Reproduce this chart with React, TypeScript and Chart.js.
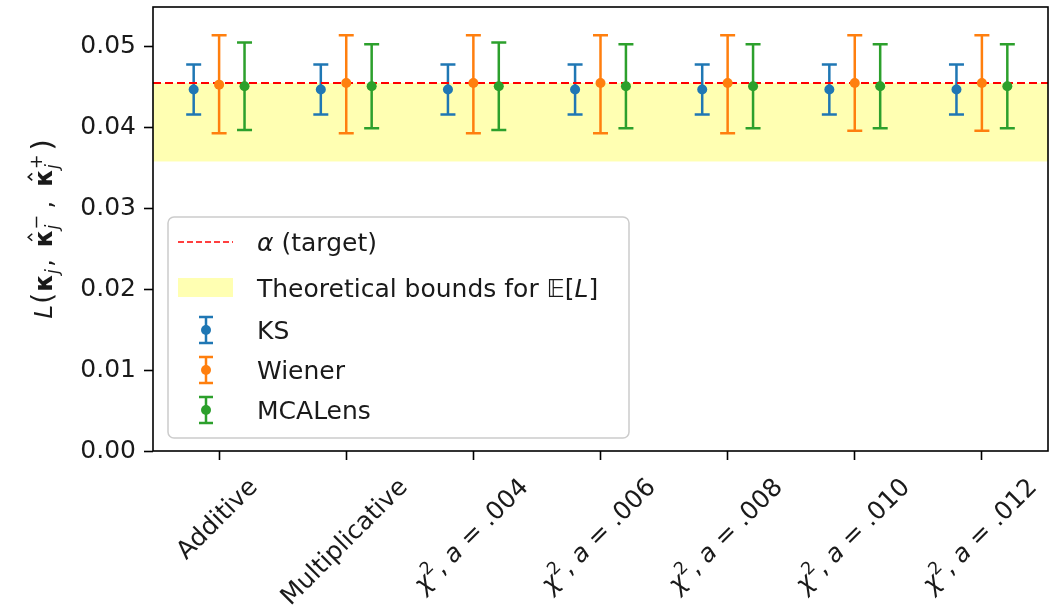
import React, { useEffect, useRef } from "react";
import { Chart, registerables } from "chart.js";
Chart.register(...registerables);

// ---------- data ----------
const categories = [
  "Additive",
  "Multiplicative",
  "χ^2, a = .004",
  "χ^2, a = .006",
  "χ^2, a = .008",
  "χ^2, a = .010",
  "χ^2, a = .012",
];
const xTickValues = [0, 1, 2, 3, 4, 5, 6];
const yTickValues = [0, 0.01, 0.02, 0.03, 0.04, 0.05];
const seriesNames = ["KS", "Wiener", "MCALens"];
const seriesColors = ["#1f77b4", "#ff7f0e", "#2ca02c"];
const seriesOffsets = [-0.2, 0, 0.2];

const ksMean = [0.0447, 0.0447, 0.0447, 0.0447, 0.0447, 0.0447, 0.0447];
const ksLow = [0.0416, 0.0416, 0.0416, 0.0416, 0.0416, 0.0416, 0.0416];
const ksHigh = [0.0478, 0.0478, 0.0478, 0.0478, 0.0478, 0.0478, 0.0478];

const wienerMean = [0.0453, 0.0455, 0.0455, 0.0455, 0.0455, 0.0455, 0.0455];
const wienerLow = [0.0393, 0.0393, 0.0393, 0.0393, 0.0393, 0.0396, 0.0396];
const wienerHigh = [0.0514, 0.0514, 0.0514, 0.0514, 0.0514, 0.0514, 0.0514];

const mcaMean = [0.0451, 0.0451, 0.0451, 0.0451, 0.0451, 0.0451, 0.0451];
const mcaLow = [0.0397, 0.0399, 0.0397, 0.0399, 0.0399, 0.0399, 0.0399];
const mcaHigh = [0.0505, 0.0503, 0.0505, 0.0503, 0.0503, 0.0503, 0.0503];

const alphaTarget = 0.0455;
const boundLow = 0.0358;
const boundHigh = 0.0455;

const xMin = -0.52;
const xMax = 6.52;
const yMin = 0;
const yMax = 0.0549;

const means = [ksMean, wienerMean, mcaMean];
const lows = [ksLow, wienerLow, mcaLow];
const highs = [ksHigh, wienerHigh, mcaHigh];

// ---------- rich text helpers ----------
const FAMILY = '"DejaVu Sans"';
const FS = 25;
const TEXT_COLOR = "#1a1a1a";

type Piece = {
  t: string;
  italic?: boolean;
  bold?: boolean;
  scale?: number;
  dy?: number;
  stack?: boolean;
  hat?: boolean;
  gap?: number;
};

function fontOf(p: Piece, size: number) {
  const s = size * (p.scale ?? 1);
  return `${p.italic ? "italic " : ""}${p.bold ? "bold " : ""}${s}px ${FAMILY}`;
}

function layoutPieces(ctx: CanvasRenderingContext2D, pieces: Piece[], size: number) {
  let x = 0;
  let prevStart = 0;
  let prevW = 0;
  const pos: { x: number; w: number }[] = [];
  for (const p of pieces) {
    ctx.font = fontOf(p, size);
    const w = ctx.measureText(p.t).width;
    if (p.stack) {
      pos.push({ x: prevStart, w });
      prevW = Math.max(prevW, w);
      x = prevStart + prevW;
    } else {
      pos.push({ x, w });
      prevStart = x;
      prevW = w;
      x += w;
    }
    x += p.gap ?? 0;
  }
  return { pos, width: x };
}

function drawPieces(
  ctx: CanvasRenderingContext2D,
  pieces: Piece[],
  x0: number,
  baseline: number,
  size: number
) {
  const { pos } = layoutPieces(ctx, pieces, size);
  ctx.textAlign = "left";
  ctx.textBaseline = "alphabetic";
  pieces.forEach((p, i) => {
    ctx.font = fontOf(p, size);
    const y = baseline + (p.dy ?? 0) * size;
    ctx.fillText(p.t, x0 + pos[i].x, y);
    if (p.hat) {
      const cx = x0 + pos[i].x + pos[i].w / 2 + 1;
      const top = y - size * 0.95;
      ctx.save();
      ctx.lineWidth = 1.6;
      ctx.strokeStyle = ctx.fillStyle as string;
      ctx.beginPath();
      ctx.moveTo(cx - 3.5, top + 4);
      ctx.lineTo(cx, top);
      ctx.lineTo(cx + 3.5, top + 4);
      ctx.stroke();
      ctx.restore();
    }
  });
}

function categoryPieces(label: string): Piece[] {
  const m = label.match(/^χ\^2, a = (.*)$/);
  if (m) {
    return [
      { t: "χ", italic: true },
      { t: "2", scale: 0.7, dy: -0.42 },
      { t: ", " },
      { t: "a", italic: true },
      { t: " = " },
      { t: m[1] },
    ];
  }
  return [{ t: label }];
}

const yLabelPieces: Piece[] = [
  { t: "L", italic: true, gap: 1 },
  { t: "(", scale: 1.15, gap: 1 },
  { t: "κ", bold: true },
  { t: "j", italic: true, scale: 0.7, dy: 0.22, gap: 2 },
  { t: ", ", gap: 4 },
  { t: "κ", bold: true, hat: true },
  { t: "j", italic: true, scale: 0.7, dy: 0.22 },
  { t: "−", scale: 0.7, dy: -0.42, stack: true, gap: 6 },
  { t: ", ", gap: 6 },
  { t: "κ", bold: true, hat: true },
  { t: "j", italic: true, scale: 0.7, dy: 0.22 },
  { t: "+", scale: 0.7, dy: -0.42, stack: true, gap: 4 },
  { t: ")", scale: 1.15 },
];

const legendAlphaPieces: Piece[] = [{ t: "α", italic: true }, { t: " (target)" }];
const legendBoundPieces: Piece[] = [
  { t: "Theoretical bounds for " },
  { t: "𝔼" },
  { t: "[" },
  { t: "L", italic: true },
  { t: "]" },
];

// ---------- plugin ----------
const decorPlugin = {
  id: "decor",
  beforeDatasetsDraw(chart: any) {
    const ctx: CanvasRenderingContext2D = chart.ctx;
    const area = chart.chartArea;
    const ys = chart.scales.y;
    const xs = chart.scales.x;
    // band
    ctx.save();
    ctx.fillStyle = "rgba(255,255,0,0.3)";
    const yTop = ys.getPixelForValue(boundHigh);
    const yBot = ys.getPixelForValue(boundLow);
    ctx.fillRect(area.left, yTop, area.right - area.left, yBot - yTop);
    ctx.restore();
    // error bars
    ctx.save();
    ctx.lineWidth = 2.5;
    for (let k = 0; k < seriesNames.length; k++) {
      ctx.strokeStyle = seriesColors[k];
      for (let i = 0; i < xTickValues.length; i++) {
        const px = xs.getPixelForValue(xTickValues[i] + seriesOffsets[k]);
        const pl = ys.getPixelForValue(lows[k][i]);
        const ph = ys.getPixelForValue(highs[k][i]);
        ctx.beginPath();
        ctx.moveTo(px, pl);
        ctx.lineTo(px, ph);
        ctx.moveTo(px - 7.5, pl);
        ctx.lineTo(px + 7.5, pl);
        ctx.moveTo(px - 7.5, ph);
        ctx.lineTo(px + 7.5, ph);
        ctx.stroke();
      }
    }
    ctx.restore();
  },
  afterDraw(chart: any) {
    const ctx: CanvasRenderingContext2D = chart.ctx;
    const area = chart.chartArea;
    const xs = chart.scales.x;
    // frame
    ctx.save();
    ctx.strokeStyle = "#000";
    ctx.lineWidth = 1.6;
    ctx.strokeRect(area.left, area.top, area.right - area.left, area.bottom - area.top);
    ctx.restore();

    // x tick labels, rotated 45°
    ctx.save();
    ctx.fillStyle = TEXT_COLOR;
    const y0 = area.bottom + 23;
    for (let i = 0; i < categories.length; i++) {
      const pieces = categoryPieces(categories[i]);
      const { width } = layoutPieces(ctx, pieces, FS);
      const h = FS * 1.0;
      const S = (width + h) / Math.SQRT2;
      const cx = xs.getPixelForValue(xTickValues[i]) - 2;
      const cy = y0 + S / 2;
      ctx.save();
      ctx.translate(cx, cy);
      ctx.rotate(-Math.PI / 4);
      drawPieces(ctx, pieces, -width / 2, FS * 0.3, FS);
      ctx.restore();
    }
    ctx.restore();

    // y axis label
    ctx.save();
    ctx.fillStyle = TEXT_COLOR;
    const LS = 25;
    const yl = layoutPieces(ctx, yLabelPieces, LS);
    ctx.translate(52, (area.top + area.bottom) / 2);
    ctx.rotate(-Math.PI / 2);
    drawPieces(ctx, yLabelPieces, -yl.width / 2, 0, LS);
    ctx.restore();

    // legend
    ctx.save();
    ctx.fillStyle = "rgba(255,255,255,0.8)";
    ctx.strokeStyle = "#cccccc";
    ctx.lineWidth = 1.5;
    ctx.beginPath();
    (ctx as any).roundRect(168, 217, 461, 221, 6);
    ctx.fill();
    ctx.stroke();

    const textX = 257;
    const rows = [242, 288, 330, 370, 410];
    // alpha line
    ctx.strokeStyle = "red";
    ctx.lineWidth = 1.5;
    ctx.setLineDash([6, 3]);
    ctx.beginPath();
    ctx.moveTo(178, rows[0]);
    ctx.lineTo(233, rows[0]);
    ctx.stroke();
    ctx.setLineDash([]);
    ctx.fillStyle = TEXT_COLOR;
    drawPieces(ctx, legendAlphaPieces, textX, rows[0] + FS * 0.34, FS);
    // band swatch
    ctx.fillStyle = "rgba(255,255,0,0.3)";
    ctx.fillRect(178, rows[1] - 10, 55, 19);
    ctx.fillStyle = TEXT_COLOR;
    drawPieces(ctx, legendBoundPieces, textX, rows[1] + FS * 0.34, FS);
    // series
    for (let k = 0; k < seriesNames.length; k++) {
      const cy = rows[2 + k];
      const cx = 206;
      ctx.strokeStyle = seriesColors[k];
      ctx.fillStyle = seriesColors[k];
      ctx.lineWidth = 2.5;
      ctx.beginPath();
      ctx.moveTo(cx, cy - 13);
      ctx.lineTo(cx, cy + 13);
      ctx.moveTo(cx - 7, cy - 13);
      ctx.lineTo(cx + 7, cy - 13);
      ctx.moveTo(cx - 7, cy + 13);
      ctx.lineTo(cx + 7, cy + 13);
      ctx.stroke();
      ctx.beginPath();
      ctx.arc(cx, cy, 5, 0, Math.PI * 2);
      ctx.fill();
      ctx.fillStyle = TEXT_COLOR;
      drawPieces(ctx, [{ t: seriesNames[k] }], textX, cy + FS * 0.34, FS);
    }
    ctx.restore();
  },
};

export default function App() {
  const ref = useRef<HTMLCanvasElement | null>(null);
  useEffect(() => {
    if (!ref.current) return;
    const datasets: any[] = seriesNames.map((name, k) => ({
      type: "scatter",
      label: name,
      data: means[k].map((v, i) => ({ x: xTickValues[i] + seriesOffsets[k], y: v })),
      backgroundColor: seriesColors[k],
      borderColor: seriesColors[k],
      borderWidth: 0,
      pointRadius: 5,
      pointHoverRadius: 5,
    }));
    datasets.push({
      type: "line",
      label: "α (target)",
      data: [
        { x: xMin, y: alphaTarget },
        { x: xMax, y: alphaTarget },
      ],
      borderColor: "red",
      borderWidth: 2,
      borderDash: [8, 4],
      pointRadius: 0,
      fill: false,
    });
    const chart = new Chart(ref.current, {
      type: "scatter",
      data: { datasets },
      options: {
        animation: false,
        responsive: false,
        events: [],
        layout: { padding: { top: 7, right: 11, left: 0, bottom: 0 } },
        plugins: { legend: { display: false }, tooltip: { enabled: false } },
        scales: {
          x: {
            type: "linear",
            min: xMin,
            max: xMax,
            afterBuildTicks: (scale: any) => {
              scale.ticks = xTickValues.map((v) => ({ value: v }));
            },
            afterFit: (scale: any) => {
              scale.height = 612 - 451;
              scale.paddingLeft = 0;
              scale.paddingRight = 0;
            },
            ticks: { callback: () => "", autoSkip: false, maxRotation: 0 },
            border: { display: false },
            grid: {
              display: true,
              drawOnChartArea: false,
              drawTicks: true,
              tickLength: 9,
              tickWidth: 1.6,
              tickColor: "#000",
            },
          },
          y: {
            type: "linear",
            min: yMin,
            max: yMax,
            afterBuildTicks: (scale: any) => {
              scale.ticks = yTickValues.map((v) => ({ value: v }));
            },
            afterFit: (scale: any) => {
              scale.width = 153;
              scale.paddingTop = 0;
              scale.paddingBottom = 0;
            },
            ticks: {
              callback: (v: any) => Number(v).toFixed(2),
              font: { family: "DejaVu Sans", size: FS },
              color: TEXT_COLOR,
              padding: 8,
            },
            border: { display: false },
            grid: {
              display: true,
              drawOnChartArea: false,
              drawTicks: true,
              tickLength: 9,
              tickWidth: 1.6,
              tickColor: "#000",
            },
          },
        },
      },
      plugins: [decorPlugin],
    } as any);
    return () => chart.destroy();
  }, []);
  return (
    <div style={{ position: "absolute", left: 0, top: 0, width: 1059, height: 612, background: "#fff" }}>
      <canvas ref={ref} width={1059} height={612} style={{ display: "block" }} />
    </div>
  );
}
